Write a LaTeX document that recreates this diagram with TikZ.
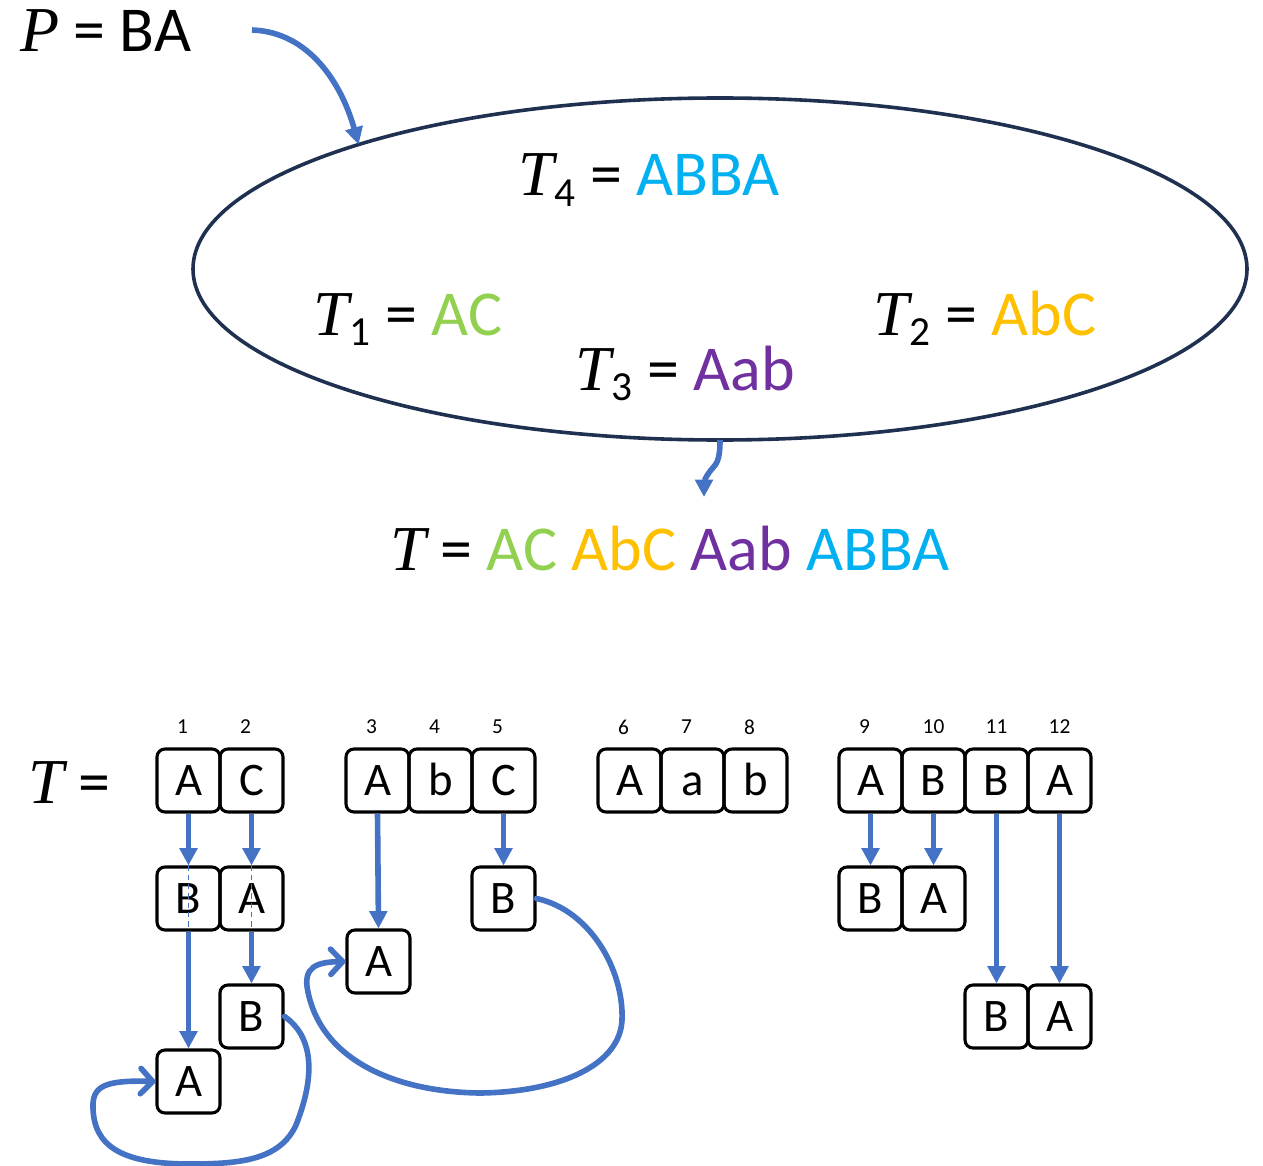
\documentclass[tikz,border=0pt]{standalone}
\usepackage{fontspec}
\setmainfont{Carlito}
\newfontfamily\varfont{Liberation Serif}
\usetikzlibrary{arrows.meta,shapes.geometric}
\definecolor{flowblue}{HTML}{4472C4}
\definecolor{ringnavy}{HTML}{1F3050}
\definecolor{grpgreen}{HTML}{92D050}
\definecolor{grpgold}{HTML}{FFC000}
\definecolor{grppurple}{HTML}{7030A0}
\definecolor{grpcyan}{HTML}{00B0F0}
% italic variable letter and lowered index
\newcommand{\vletter}[1]{{\varfont\itshape #1}}
\newcommand{\lowidx}[1]{\kern1pt\raisebox{-8pt}{\fontsize{31}{36}\selectfont #1}}
\begin{document}
\begin{tikzpicture}[x=0.75pt,y=-0.75pt,
  lbl/.style={anchor=base west, inner sep=0pt, outer sep=0pt, font=\fontsize{48}{58}\selectfont},
  cell/.style={draw, line width=2.3pt, rounded corners=6pt, minimum size=47.25pt,
    inner sep=0pt, text height=22.5pt, text depth=0pt, font=\fontsize{35}{42}\selectfont},
  idx/.style={inner sep=0pt, font=\fontsize{16}{19}\selectfont},
  flow/.style={draw=flowblue, line width=4.2pt, -{Triangle[length=13pt,width=13pt]}},
  loopback/.style={draw=flowblue, line width=4.2pt, line cap=round,
    -{Straight Barb[length=9pt,width=19pt,round]}},
  guide/.style={draw=flowblue, line width=1pt, dash pattern=on 4pt off 3pt}]
\useasboundingbox (0,0) rectangle (1263,1166);

% ---- pattern and the collection of texts ----
\node[lbl] (pat) at (20,52) {\vletter{P} = BA};
\coordinate (patout) at (252,30);

\node[ellipse, draw=ringnavy, line width=2.7pt, inner sep=0pt, outer sep=0pt,
  minimum width=790.5pt, minimum height=256.5pt] (pool) at (720,269) {};

\node[lbl] (tfour)  at (518,196) {\vletter{T}\lowidx{4} = \textcolor{grpcyan}{ABBA}};
\node[lbl] (tone)   at (313,335) {\vletter{T}\lowidx{1} = \textcolor{grpgreen}{AC}};
\node[lbl] (ttwo)   at (873,335) {\vletter{T}\lowidx{2} = \textcolor{grpgold}{AbC}};
\node[lbl] (tthree) at (575,390) {\vletter{T}\lowidx{3} = \textcolor{grppurple}{Aab}};

\draw[flow] (patout) .. controls (310,32) and (342,85) .. (pool.161.6);

\node[lbl] (concat) at (390,570) {\vletter{T} = \textcolor{grpgreen}{AC} \textcolor{grpgold}{AbC} \textcolor{grppurple}{Aab} \textcolor{grpcyan}{ABBA}};
\coordinate (concatin) at (704,497);
\draw[flow] (pool.south) .. controls (720,462) and (716,464) .. (711,470)
  .. controls (706,476) and (704,482) .. (concatin);

% ---- the text laid out cell by cell ----
\node[lbl] (tname) at (28,803) {\vletter{T} =};

\foreach \i/\x/\c/\d in {1/188.5/A/-6, 2/251.5/C/-6, 3/377.5/A/-6, 4/440.5/b/-6, 5/503.5/C/-6,
  6/629.5/A/-6, 7/692.5/a/-6, 8/755.5/b/-6, 9/870.5/A/-6, 10/933.5/B/0, 11/996.5/B/0, 12/1059.5/A/0} {
  \node[cell] (t\i) at (\x,780.5) {\c};
  \node[idx] (n\i) at (\x+\d,727) {\i};
}

% matched pieces of the pattern
\node[cell] (u1)  at (188.5,898.5) {B};
\node[cell] (u2)  at (251.5,898.5) {A};
\node[cell] (u5)  at (503.5,898.5) {B};
\node[cell] (u9)  at (870.5,898.5) {B};
\node[cell] (u10) at (933.5,898.5) {A};
\node[cell] (v3)  at (378.5,961.5) {A};
\node[cell] (v2)  at (251.5,1016.5) {B};
\node[cell] (v11) at (996.5,1016.5) {B};
\node[cell] (v12) at (1059.5,1016.5) {A};
\node[cell] (w1)  at (188.5,1081.5) {A};

% shifts of the pattern
\draw[flow] (t1.south) -- (u1.north);
\draw[guide] (u1.north) -- (u1.south);
\draw[flow] (u1.south) -- (w1.north);
\draw[flow] (t2.south) -- (u2.north);
\draw[guide] (u2.north) -- (u2.south);
\draw[flow] (u2.south) -- (v2.north);
\draw[flow] (t3.south) -- (v3.north);
\draw[flow] (t5.south) -- (u5.north);
\draw[flow] (t9.south) -- (u9.north);
\draw[flow] (t10.south) -- (u10.north);
\draw[flow] (t11.south) -- (v11.north);
\draw[flow] (t12.south) -- (v12.north);

% wrap-around connections
\draw[loopback] (v2.east) .. controls (318,1040) and (312,1085) .. (296,1125)
  .. controls (280,1160) and (240,1164) .. (190,1164)
  .. controls (120,1164) and (94,1145) .. (93,1108)
  .. controls (92,1086) and (105,1080) .. (w1.west);
\draw[loopback] (u5.east) .. controls (590,910) and (624,970) .. (622,1020)
  .. controls (620,1065) and (560,1092) .. (480,1093)
  .. controls (395,1092) and (322,1060) .. (308,992)
  .. controls (302,966) and (318,962) .. (v3.west);
\end{tikzpicture}
\end{document}
